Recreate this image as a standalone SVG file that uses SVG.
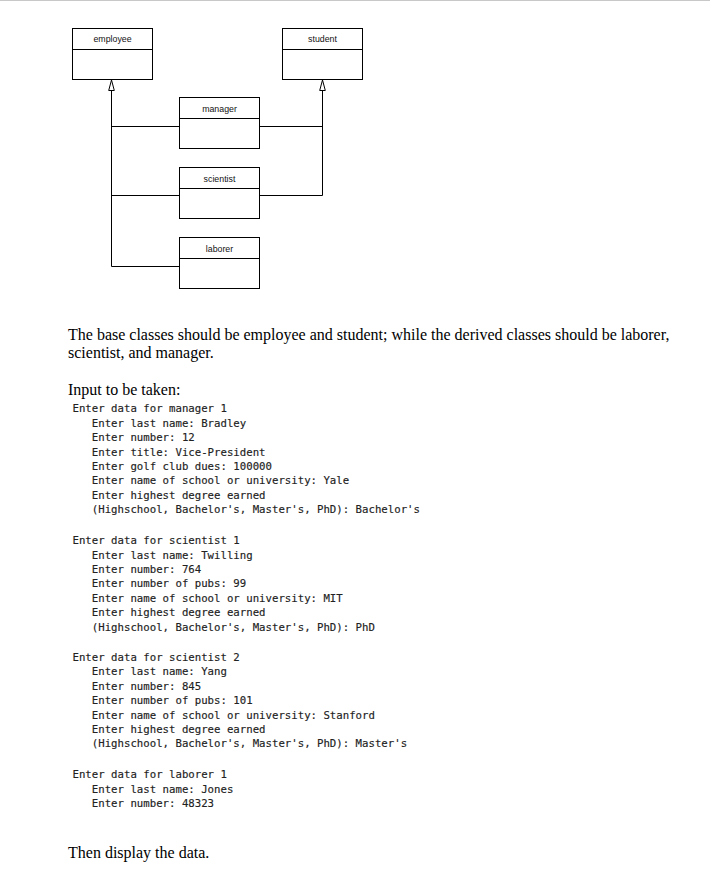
<svg xmlns="http://www.w3.org/2000/svg" width="710" height="870" viewBox="0 0 710 870">
<style>
.box{fill:#fff;stroke:#000;stroke-width:1}
.div{stroke:#000;stroke-width:1}
.lbl{font-family:"Liberation Sans",Arial,sans-serif;font-size:8.8px;fill:#111;text-anchor:middle}
.con{fill:none;stroke:#000;stroke-width:1}
.tri{fill:#fff;stroke:#000;stroke-width:1}
.p{font-family:"Liberation Serif","Times New Roman",serif;font-size:16px;fill:#000}
.m{font-family:"DejaVu Sans Mono","Liberation Mono",monospace;font-size:10.7px;fill:#222;stroke:#222;stroke-width:0.15}
</style>
<rect x="0" y="0" width="710" height="870" fill="#fff"/>
<rect x="0" y="0" width="710" height="1" fill="#c8c8c8"/>
<g id="connectors">
<path class="con" d="M111.5,90 V266.5 H179.5 M111.5,126.5 H179.5 M111.5,195.5 H179.5"/>
<path class="con" d="M322.5,90 V195.5 H259.5 M322.5,126.5 H259.5"/>
<polygon class="tri" points="111.5,80 108.7,90.5 114.3,90.5"/>
<polygon class="tri" points="322.5,80 319.7,90.5 325.3,90.5"/>
</g>
<g id="employee">
<rect class="box" x="72.5" y="28.5" width="80" height="51"/>
<line class="div" x1="72.5" y1="49.5" x2="152.5" y2="49.5"/>
<text class="lbl" x="112.5" y="42">employee</text>
</g>
<g id="student">
<rect class="box" x="282.5" y="28.5" width="80" height="51"/>
<line class="div" x1="282.5" y1="49.5" x2="362.5" y2="49.5"/>
<text class="lbl" x="322.5" y="42">student</text>
</g>
<g id="manager">
<rect class="box" x="179.5" y="97.5" width="80" height="51"/>
<line class="div" x1="179.5" y1="118.5" x2="259.5" y2="118.5"/>
<text class="lbl" x="219.5" y="111.5">manager</text>
</g>
<g id="scientist">
<rect class="box" x="179.5" y="167.5" width="80" height="51"/>
<line class="div" x1="179.5" y1="188.5" x2="259.5" y2="188.5"/>
<text class="lbl" x="219.5" y="181.5">scientist</text>
</g>
<g id="laborer">
<rect class="box" x="179.5" y="237.5" width="80" height="51"/>
<line class="div" x1="179.5" y1="258.5" x2="259.5" y2="258.5"/>
<text class="lbl" x="219.5" y="251.5">laborer</text>
</g>
<g id="text">
<text class="p" x="68" y="340">The base classes should be employee and student; while the derived classes should be laborer,</text>
<text class="p" x="68" y="357.5">scientist, and manager.</text>
<text class="p" x="68" y="394.5">Input to be taken:</text>
<text class="m" x="72.5" y="412">Enter data for manager 1</text>
<text class="m" x="91.8" y="426.5">Enter last name: Bradley</text>
<text class="m" x="91.8" y="441">Enter number: 12</text>
<text class="m" x="91.8" y="455.5">Enter title: Vice-President</text>
<text class="m" x="91.8" y="469.9">Enter golf club dues: 100000</text>
<text class="m" x="91.8" y="484.3">Enter name of school or university: Yale</text>
<text class="m" x="91.8" y="498.8">Enter highest degree earned</text>
<text class="m" x="91.8" y="513.2">(Highschool, Bachelor's, Master's, PhD): Bachelor's</text>
<text class="m" x="72.5" y="544">Enter data for scientist 1</text>
<text class="m" x="91.8" y="558.5">Enter last name: Twilling</text>
<text class="m" x="91.8" y="572.9">Enter number: 764</text>
<text class="m" x="91.8" y="587.4">Enter number of pubs: 99</text>
<text class="m" x="91.8" y="601.8">Enter name of school or university: MIT</text>
<text class="m" x="91.8" y="616.3">Enter highest degree earned</text>
<text class="m" x="91.8" y="630.7">(Highschool, Bachelor's, Master's, PhD): PhD</text>
<text class="m" x="72.5" y="660.7">Enter data for scientist 2</text>
<text class="m" x="91.8" y="675.2">Enter last name: Yang</text>
<text class="m" x="91.8" y="689.6">Enter number: 845</text>
<text class="m" x="91.8" y="704.1">Enter number of pubs: 101</text>
<text class="m" x="91.8" y="718.5">Enter name of school or university: Stanford</text>
<text class="m" x="91.8" y="733">Enter highest degree earned</text>
<text class="m" x="91.8" y="747.4">(Highschool, Bachelor's, Master's, PhD): Master's</text>
<text class="m" x="72.5" y="778.3">Enter data for laborer 1</text>
<text class="m" x="91.8" y="792.7">Enter last name: Jones</text>
<text class="m" x="91.8" y="807">Enter number: 48323</text>
<text class="p" x="68" y="858">Then display the data.</text>
</g>
</svg>
